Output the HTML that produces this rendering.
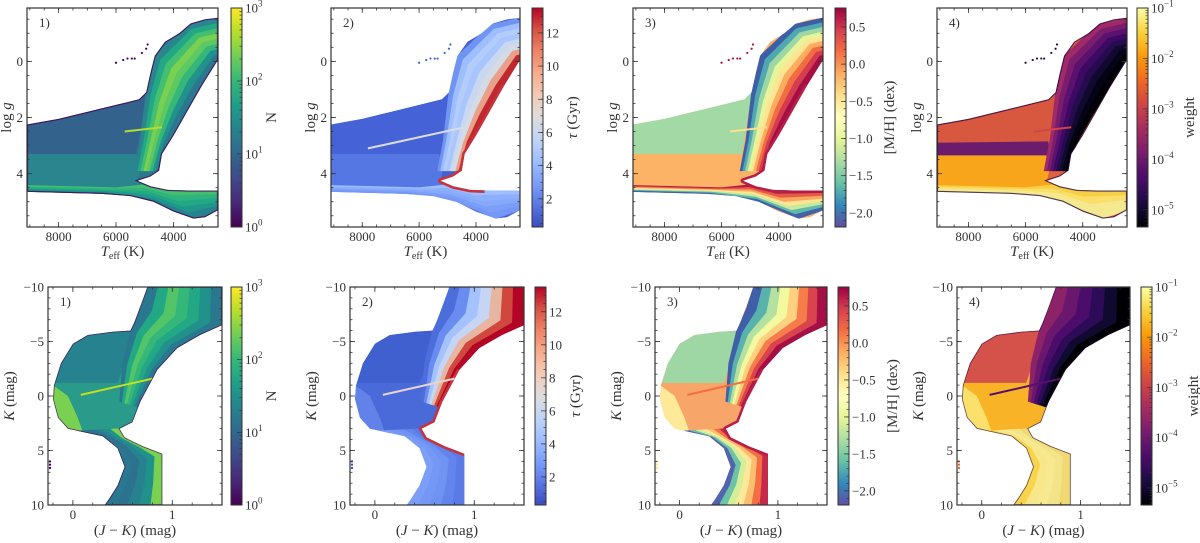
<!DOCTYPE html>
<html><head><meta charset="utf-8">
<style>
html,body{margin:0;padding:0;background:#fff;}
svg{display:block;}
text{font-family:"Liberation Serif",serif;fill:#333;}
</style></head>
<body>
<svg id="fig" width="1200" height="543" viewBox="0 0 1200 543" xmlns="http://www.w3.org/2000/svg"></svg>
<script>
// ---- data (Teff, log g) ----
const topOutline = [[9100,2.25],[8000,2.05],[7000,1.8],[6000,1.55],[5200,1.35],[4950,1.1],[4800,0.4],[4650,-0.2],[4300,-0.7],[3800,-1.0],[3400,-1.35],[2900,-1.5],[2450,-1.55],[2450,-0.05],[3000,0.85],[3500,1.75],[4000,2.65],[4400,3.3],[4500,3.9],[4800,4.1],[5250,4.25],[4800,4.45],[4200,4.58],[3500,4.6],[2450,4.6],[2450,5.3],[2900,5.55],[3300,5.6],[4000,5.35],[4700,5.0],[5500,4.8],[6500,4.72],[9100,4.65]];
const topUL = [[9100,2.25],[7000,1.8],[6000,1.55],[5200,1.35],[4950,1.1],[5150,2.5],[5300,3.3],[9100,3.3]];
const topLL = [[9100,3.3],[5300,3.3],[5150,3.8],[5250,4.25],[4800,4.45],[6000,4.55],[9100,4.5]];
const topBand = [[9100,2.9],[5200,2.85],[5150,3.35],[9100,3.35]];
const topTurnoff = [[3000,0.85],[3500,1.75],[4000,2.65],[4400,3.3],[4500,3.9],[4800,4.1],[5250,4.25],[4800,4.45],[4200,4.58],[3700,4.6]];
const topRgbL = [[5350,3.9],[5150,2.8],[4950,1.1],[4650,-0.2],[3500,-1.3],[2450,-1.55]];
const topRgbR = [[4500,3.9],[4200,2.9],[3700,2.0],[3100,1.0],[2450,-0.05],[2450,-0.05]];
const topMsT = [[9100,4.42],[6000,4.5],[5100,4.4],[4200,4.58],[2450,4.6]];
const topMsB = [[9100,4.65],[6500,4.72],[4700,5.0],[3300,5.6],[2450,5.3]];
const topClump = [[5700,2.5],[4400,2.35]];
const topClumpLong = [[7800,3.1],[4400,2.35]];
const topDots = [[6000,0.05],[5750,-0.05],[5600,-0.1],[5450,-0.1],[5350,-0.1],[5100,-0.3],[4950,-0.45],[4900,-0.6]];
// ---- data (J-K, K) ----
const botOutline = [[0.75,-10],[0.62,-6.8],[0.58,-6.0],[0.4,-5.9],[0.15,-5.6],[0.0,-4.8],[-0.12,-3],[-0.19,-1],[-0.2,0.3],[-0.15,2],[-0.05,3.0],[0.1,3.3],[0.3,3.7],[0.45,4.8],[0.52,6.5],[0.45,8.2],[0.36,9.5],[0.32,10],[0.9,10],[0.9,5.3],[0.7,4.6],[0.52,3.8],[0.47,3.0],[0.6,2.4],[0.68,0.5],[0.85,-2.4],[1.05,-4.4],[1.28,-5.6],[1.5,-6.5],[1.5,-10]];
const botUL = [[0.6,-6.2],[0.4,-5.9],[0.15,-5.6],[0.0,-4.8],[-0.12,-3],[-0.18,-1.2],[0.45,-1.2],[0.52,-3],[0.6,-6]];
const botLLedge = [[-0.2,-1],[-0.2,0.3],[-0.15,2],[-0.05,3.0],[0.1,3.3],[0.05,2.0],[-0.05,0.0]];
const botTurnoff = [[0.85,-2.4],[0.68,0.5],[0.6,2.4],[0.47,3.0],[0.52,3.8],[0.7,4.6],[0.9,5.3]];
const botRgbL = [[0.47,0.5],[0.5,-3],[0.58,-6],[0.68,-8],[0.75,-10]];
const botRgbR = [[0.65,1.0],[0.85,-2.4],[1.05,-4.4],[1.5,-6.5],[1.5,-10]];
const botMsL = [[0.05,3.2],[0.3,3.7],[0.45,4.8],[0.52,6.5],[0.45,8.2],[0.32,10]];
const botMsR = [[0.47,3.0],[0.55,3.9],[0.72,4.6],[0.9,5.3],[0.9,8],[0.9,10]];
const botClump = [[0.08,-0.1],[0.8,-1.6]];
const botDots = [[-0.24,6.0],[-0.24,6.3],[-0.24,6.6]];
// ---- axis ticks ----
const topXTicks = [8000,6000,4000];
const topYTicks = [0,2,4];
const botXTicks = [0,1];
const botYTicks = [-10,-5,0,5,10];
const cbTauTicks = [2,4,6,8,10,12];
const cbMhTicks = [0.5,0.0,-0.5,-1.0,-1.5,-2.0];
const cbNExp = [0,1,2,3];
const cbWExp = [-5,-4,-3,-2,-1];

const NS="http://www.w3.org/2000/svg";
const svg=document.getElementById('fig');
function mk(tag,attrs,parent){const e=document.createElementNS(NS,tag);for(const k in attrs)e.setAttribute(k,attrs[k]);(parent||svg).appendChild(e);return e;}

const topPanels=[{x0:27,x1:218,cb:231,lo:41},{x0:331,x1:520,cb:532,lo:41},{x0:633,x1:823,cb:835,lo:55},{x0:937,x1:1127,cb:1137,lo:53}];
const botPanels=[{x0:48,x1:222,cb:231,lo:41},{x0:350,x1:524,cb:535,lo:41},{x0:655,x1:827,cb:838,lo:55},{x0:957,x1:1130,cb:1141,lo:53}];
const TY0=8,TY1=227,BY0=287,BY1=505,CBW=11;

const styles=[
 {base:'#2a788e',ul:'#33638d',ll:'#2a858e',band:null,turn:null,rgb:['#2a858e','#22a884','#44bf70','#7ad151','#5ec962','#35b779','#21918c','#2a788e'],ms:['#44bf70','#2fb47c','#22a884','#1f988b','#26828e'],edge:'#440154',clump:'#b5de2b',bul:'#26828e',bll:'#2a9a8a',bllEdge:'#7ad151',brgb:['#2a788e','#22a884','#52c569','#35b779','#22a884','#21918c','#2a788e'],bms:['#2a788e','#2c728e','#26828e','#21918c','#7ad151'],bclump:'#c2df23',bturn:null},
 {base:'#4461d4',ul:'#4563d6',ll:'#5577e3',band:null,turn:'#c8323a',rgb:['#7094f2','#9ebeff','#b2ccfb','#a8c6fd','#c9d7f0','#d5dbe5','#e8a088','#c0282f'],ms:['#9ebeff','#8db0fe','#86a9fc','#7b9ff9','#7597f6'],edge:'#3b4cc0',clump:'#dddcdc',bul:'#4060d0',bll:'#4a6ad9',bllEdge:'#6282ea',brgb:['#4c6edb','#6a8bef','#a3c2fe','#c5d5f3','#e8b6a0','#d0473d','#b40426'],bms:['#7b9ff9','#7597f6','#6f93f3','#6384eb','#5a7ae6'],bclump:'#e8d6cc',bturn:'#c8323a'},
 {base:'#fdb365',ul:'#a2d9a4',ll:'#fdb365',band:null,turn:'#b51f48',rgb:['#3d5fa8','#4fa7b0','#9cd7a4','#e7f59a','#fee593','#fdad60','#f26c43','#d43d4f','#a50f45'],ms:['#b31b46','#e55a47','#fca55d','#fee695','#c9e99e','#5fbaa8','#4063ab'],edge:'#3288bd',clump:'#fee08b',bul:'#9fd7a4',bll:'#f8a56a',bllEdge:'#fee999',brgb:['#3f5fa9','#58b3ac','#b5e1a0','#f2f99f','#fed07f','#f67d4a','#d8434e','#a50f45'],bms:['#5264ad','#6cc3a6','#d4ee9a','#fee89a','#fdbf6f','#f46d43','#c52a4a'],bclump:'#f46d43',bturn:'#b51f48'},
 {base:'#e06040',ul:'#d8573f',ll:'#f8a51b',band:'#6c1c6c',turn:null,rgb:['#a02a68','#7a1d6d','#5a126e','#3d0965','#240c4f','#110a2e','#050416','#000004'],ms:['#f7cf45','#f9df6a','#f6e88f','#f3ea8f'],edge:'#2a0b45',clump:'#cf4446',bul:'#d5524a',bll:'#f9b326',bllEdge:'#fbe06b',brgb:['#8c2369','#6a176e','#4b0c6b','#2d0b59','#110a30','#000004'],bms:['#f8d44a','#f8e68a','#f7e98f','#f3e48a','#f0d873'],bclump:'#57106e',bturn:null}
];

function ptsStr(arr,fx,fy){return arr.map(p=>fx(p[0]).toFixed(1)+','+fy(p[1]).toFixed(1)).join(' ');}
function lerpLine(L,R,t){return L.map((p,i)=>[p[0]+(R[i][0]-p[0])*t,p[1]+(R[i][1]-p[1])*t]);}
function strips(g,L,R,colors,fx,fy,name){
  const n=colors.length;
  for(let i=0;i<n;i++){
    const a=lerpLine(L,R,i/n), b=lerpLine(L,R,(i+1)/n).reverse();
    const pg=mk('polygon',{points:ptsStr(a.concat(b),fx,fy),fill:colors[i],stroke:colors[i],'stroke-width':0.6},g);
    
    
  }
}
const defs=mk('defs',{});
const cmaps={
 viridis:['#440154','#482878','#3e4a89','#31688e','#26828e','#1f9e89','#35b779','#6ece58','#b5de2b','#fde725'],
 coolwarm:['#3b4cc0','#5977e3','#7b9ff9','#9ebeff','#c0d4f5','#dddcdc','#f2cbb7','#f7ac8e','#ee8468','#d65244','#b40426'],
 spectral:['#5e4fa2','#3288bd','#66c2a5','#abdda4','#e6f598','#ffffbf','#fee08b','#fdae61','#f46d43','#d53e4f','#9e0142'],
 inferno:['#000004','#1b0c41','#4a0c6b','#781c6d','#a52c60','#cf4446','#ed6925','#fb9b06','#f7d13d','#fcffa4']
};
const cmOrder=['viridis','coolwarm','spectral','inferno'];
cmOrder.forEach(k=>{
  const lg=mk('linearGradient',{id:'cm-'+k,x1:0,y1:1,x2:0,y2:0},defs);
  cmaps[k].forEach((c,i,a)=>mk('stop',{offset:(i/(a.length-1)),'stop-color':c},lg));
});

function drawAxesFrame(p,y0,y1,xTicks,fx,xMinor,yTicks,fy,yMinor,xLab,yLab,fmtY,row,idx){
  const g=mk('g',{});
  
  
  const T=(x1,y1_,x2,y2)=>mk('line',{x1:x1,y1:y1_,x2:x2,y2:y2,stroke:'#333','stroke-width':0.8},g);
  xMinor.forEach(v=>{const x=fx(v);if(x>p.x0+0.5&&x<p.x1-0.5){T(x,y1,x,y1-2.5);T(x,y0,x,y0+2.5);}});
  yMinor.forEach(v=>{const y=fy(v);if(y>y0+0.5&&y<y1-0.5){T(p.x0,y,p.x0+2.5,y);T(p.x1,y,p.x1-2.5,y);}});
  xTicks.forEach(v=>{const x=fx(v);T(x,y1,x,y1-5);T(x,y0,x,y0+5);
    const t=mk('text',{x:x,y:y1+14,'text-anchor':'middle','font-size':13},g);t.textContent=String(v);
    });
  yTicks.forEach(v=>{const y=fy(v);T(p.x0,y,p.x0+5,y);T(p.x1,y,p.x1-5,y);
    const t=mk('text',{x:p.x0-4,y:y+4.5,'text-anchor':'end','font-size':13},g);t.textContent=fmtY(v);
    });
  const fr=mk('rect',{x:p.x0,y:y0,width:p.x1-p.x0,height:y1-y0,fill:'none',stroke:'#333','stroke-width':1.2},g);
  
  const lab=mk('text',{x:p.x0+12,y:y0+19,'font-size':13,fill:'#555'},g);lab.textContent=(idx+1)+')';
  
  const cx=(p.x0+p.x1)/2;
  const xl=mk('text',{x:cx,y:row==='top'?256:535,'text-anchor':'middle','font-size':15},g);
  xl.innerHTML=xLab;
  
  const yx=row==='top'?p.x0-20:p.x0-38, yc=(y0+y1)/2;
  const yl=mk('text',{x:yx,y:yc,'text-anchor':'middle','font-size':15,transform:'rotate(-90 '+yx+' '+yc+')','dominant-baseline':'central'},g);
  yl.innerHTML=yLab;
  
}

function drawColorbar(p,y0,y1,k,row){
  const g=mk('g',{});
  
  
  mk('rect',{x:p.cb,y:y0,width:CBW,height:y1-y0,fill:'url(#cm-'+cmOrder[k]+')',stroke:'#333','stroke-width':1},g);
  const xr=p.cb+CBW;
  const T=(y,len)=>mk('line',{x1:xr,y1:y,x2:xr-len,y2:y,stroke:'#333','stroke-width':0.7},g);
  const lab=(y,html)=>{const t=mk('text',{x:xr+3,y:y+4.5,'font-size':13},g);t.innerHTML=html;};
  let title='';
  if(k===0||k===3){
    const lo=k===0?0:-5.34, hi=k===0?3:-1;
    const fy=v=>y1-(v-lo)/(hi-lo)*(y1-y0);
    const exps=k===0?cbNExp:cbWExp;
    for(let e=Math.floor(lo);e<hi;e++)for(let m=2;m<10;m++){const v=e+Math.log10(m);if(v>lo&&v<hi)T(fy(v),2.5);}
    exps.forEach(e=>{T(fy(e),5);lab(fy(e),'10<tspan font-size="9" dy="-6">'+(e<0?'\u2212'+(-e):e)+'</tspan>');});
    title=k===0?'N':'weight';
  } else if(k===1){
    const lo=0.3,hi=13.5,fy=v=>y1-(v-lo)/(hi-lo)*(y1-y0);
    for(let v=0.5;v<hi;v+=0.5)T(fy(v),2.5);
    cbTauTicks.forEach(v=>{T(fy(v),5);lab(fy(v),String(v));});
    title='<tspan font-style="italic">\u03c4</tspan> (Gyr)';
  } else {
    const lo=-2.19,hi=0.755,fy=v=>y1-(v-lo)/(hi-lo)*(y1-y0);
    for(let v=-2.1;v<hi;v+=0.1)T(fy(v),2.5);
    cbMhTicks.forEach(v=>{T(fy(v),5);lab(fy(v),(v<0?'\u2212':'')+Math.abs(v).toFixed(1));});
    title='[M/H] (dex)';
  }
  const tx=p.cb+p.lo, tc=(y0+y1)/2;
  const t=mk('text',{x:tx,y:tc,'text-anchor':'middle','font-size':15,transform:'rotate(-90 '+tx+' '+tc+')','dominant-baseline':'central'},g);
  t.innerHTML=title;
  
}

// ---- top row ----
topPanels.forEach((p,i)=>{
  const s=styles[i];
  const fx=T=>p.x0+(9100-T)/(9100-2450)*(p.x1-p.x0);
  const fy=g=>TY0+(g+1.9)/7.8*(TY1-TY0);
  const cp=mk('clipPath',{id:'ct'+i},defs);
  mk('polygon',{points:ptsStr(topOutline,fx,fy)},cp);
  const g=mk('g',{'clip-path':'url(#ct'+i+')'});
  
  
  const base=mk('polygon',{points:ptsStr(topOutline,fx,fy),fill:s.base},g);
  
  const ul=mk('polygon',{points:ptsStr(topUL,fx,fy),fill:s.ul},g);
  
  const ll=mk('polygon',{points:ptsStr(topLL,fx,fy),fill:s.ll},g);
  
  if(s.band){const b=mk('polygon',{points:ptsStr(topBand,fx,fy),fill:s.band},g);
    }
  strips(g,topRgbL,topRgbR,s.rgb,fx,fy,'rgb');
  strips(g,topMsT,topMsB,s.ms,fx,fy,'main-sequence');
  if(s.turn){const tp=mk('polyline',{points:ptsStr(topTurnoff,fx,fy),fill:'none',stroke:s.turn,'stroke-width':5,'stroke-linejoin':'round'},g);
    }
  const cl=i===1?topClumpLong:topClump;
  const ln=mk('polyline',{points:ptsStr(cl,fx,fy),fill:'none',stroke:s.clump,'stroke-width':2},g);
  
  if(i===0||i===3){const e=mk('polygon',{points:ptsStr(topOutline,fx,fy),fill:'none',stroke:s.edge,'stroke-width':2.2,opacity:0.8},g);
    }
  topDots.forEach(d=>{const c=mk('circle',{cx:fx(d[0]),cy:fy(d[1]),r:1.1,fill:i===2?'#a50f45':(i===1?'#4060d0':s.edge)});
    });
  const minX=[];for(let v=3000;v<=9000;v+=500)minX.push(v);
  const minY=[];for(let v=-1.5;v<=5.5;v+=0.5)minY.push(v);
  drawAxesFrame(p,TY0,TY1,topXTicks,fx,minX,topYTicks,fy,minY,
    '<tspan font-style="italic">T</tspan><tspan font-size="10" dy="3">eff</tspan><tspan dy="-3"> (K)</tspan>',
    'log <tspan font-style="italic">g</tspan>',v=>String(v),'top',i);
  drawColorbar(p,TY0,TY1,i,'top');
});

// ---- bottom row ----
botPanels.forEach((p,i)=>{
  const s=styles[i];
  const fx=v=>p.x0+(v+0.25)/1.75*(p.x1-p.x0);
  const fy=k=>BY0+(k+10)/20*(BY1-BY0);
  const cp=mk('clipPath',{id:'cb'+i},defs);
  mk('polygon',{points:ptsStr(botOutline,fx,fy)},cp);
  const g=mk('g',{'clip-path':'url(#cb'+i+')'});
  
  
  const base=mk('polygon',{points:ptsStr(botOutline,fx,fy),fill:s.bll},g);
  
  const le=mk('polygon',{points:ptsStr(botLLedge,fx,fy),fill:s.bllEdge},g);
  
  const ul=mk('polygon',{points:ptsStr(botUL,fx,fy),fill:s.bul},g);
  
  strips(g,botRgbL,botRgbR,s.brgb,fx,fy,'rgb');
  strips(g,botMsL,botMsR,s.bms,fx,fy,'main-sequence');
  if(s.bturn){const tp=mk('polyline',{points:ptsStr(botTurnoff,fx,fy),fill:'none',stroke:s.bturn,'stroke-width':5,'stroke-linejoin':'round'},g);
    }
  const ln=mk('polyline',{points:ptsStr(botClump,fx,fy),fill:'none',stroke:s.bclump,'stroke-width':2},g);
  
  if(i===0||i===3){const e=mk('polygon',{points:ptsStr(botOutline,fx,fy),fill:'none',stroke:s.edge,'stroke-width':1.6,opacity:0.7},g);
    }
  botDots.forEach(d=>{const c=mk('rect',{x:fx(d[0]),y:fy(d[1])-1,width:2,height:2,fill:i===3?'#ed6925':(i===2?'#fee08b':s.edge)});
    });
  const minX=[];for(let v=-0.2;v<=1.45;v+=0.2)minX.push(Math.round(v*10)/10);
  const minY=[];for(let v=-9;v<=9;v+=1)minY.push(v);
  drawAxesFrame(p,BY0,BY1,botXTicks,fx,minX,botYTicks,fy,minY,
    '(<tspan font-style="italic">J</tspan> \u2212 <tspan font-style="italic">K</tspan>) (mag)',
    '<tspan font-style="italic">K</tspan> (mag)',v=>(v<0?'\u2212'+(-v):String(v)),'bottom',i);
  drawColorbar(p,BY0,BY1,i,'bottom');
});
</script>
</body></html>
